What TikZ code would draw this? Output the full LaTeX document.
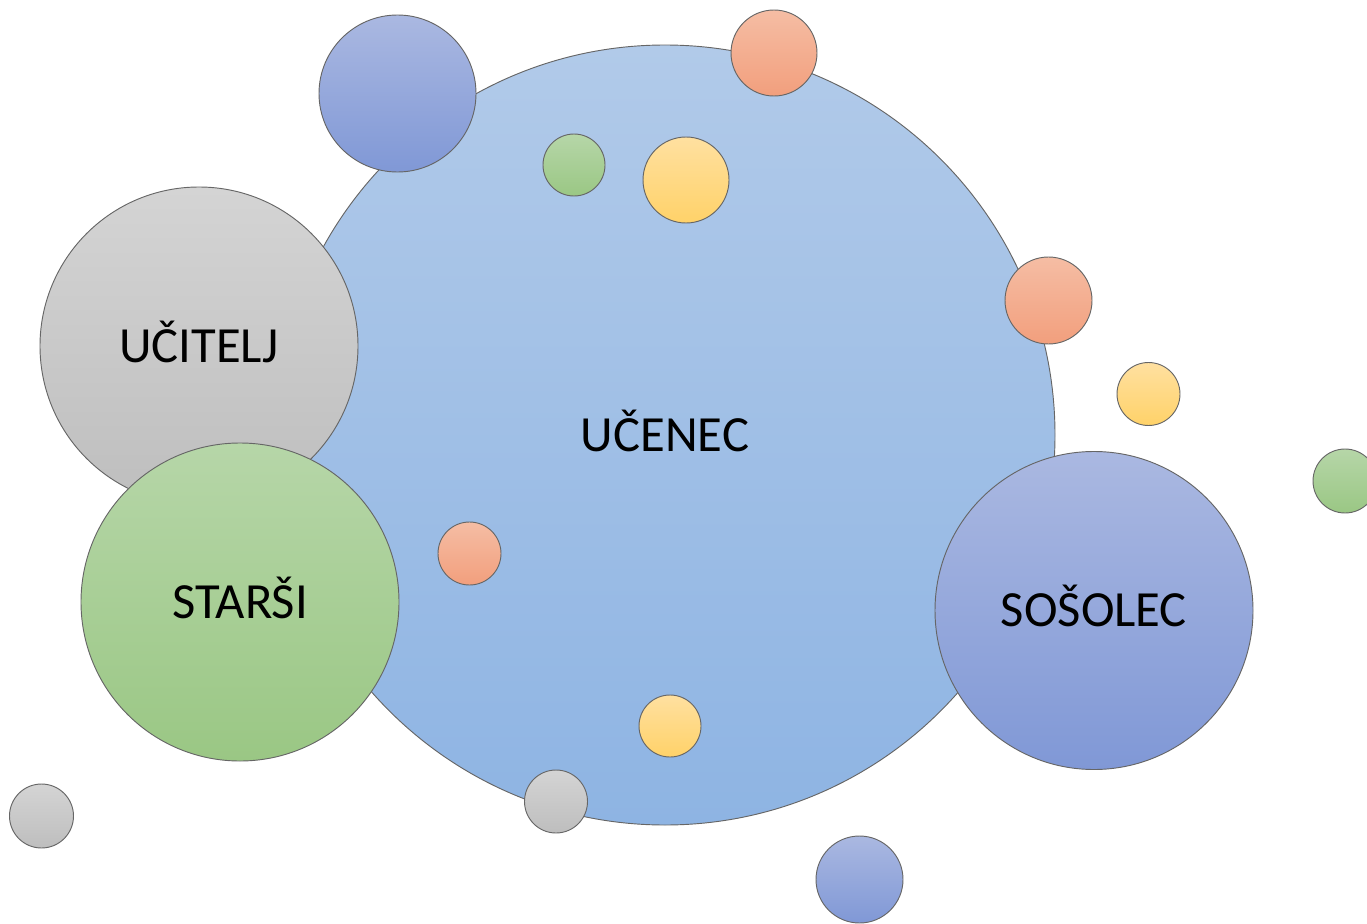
\documentclass[tikz,border=0pt]{standalone}
\usepackage{fontspec}
\setmainfont{Carlito}

\definecolor{skyTop}{HTML}{B1CAE9}
\definecolor{skyBot}{HTML}{8EB4E3}
\definecolor{greyTop}{HTML}{D4D4D4}
\definecolor{greyBot}{HTML}{BEBEBE}
\definecolor{leafTop}{HTML}{B6D6A8}
\definecolor{leafBot}{HTML}{9AC784}
\definecolor{lilacTop}{HTML}{AAB8E1}
\definecolor{lilacBot}{HTML}{8098D6}
\definecolor{peachTop}{HTML}{F5BDA4}
\definecolor{peachBot}{HTML}{F29F7D}
\definecolor{sunTop}{HTML}{FFE0A0}
\definecolor{sunBot}{HTML}{FFD269}

\begin{document}
\begin{tikzpicture}[x=0.75pt, y=-0.75pt,
    bubble/.style={circle, draw=black!60, line width=0.7pt, inner sep=0pt,
      minimum size=1.5pt*#1, font=\fontsize{38}{44}\selectfont,
      text height=24.5pt, text depth=0pt},
    sky/.style={top color=skyTop, bottom color=skyBot},
    grey/.style={top color=greyTop, bottom color=greyBot},
    leaf/.style={top color=leafTop, bottom color=leafBot},
    lilac/.style={top color=lilacTop, bottom color=lilacBot},
    peach/.style={top color=peachTop, bottom color=peachBot},
    sun/.style={top color=sunTop, bottom color=sunBot}]
  \useasboundingbox (0,0) rectangle (1367,924);
  \clip (0,0) rectangle (1367,924);

  % main bubble and the four around it
  \node[bubble=390, sky] (ucenec) at (665,435) {UČENEC};
  \node[bubble=78.5, lilac] (topblue) at (397.5,93.5) {};
  \node[bubble=159, grey] (ucitelj) at (199,346) {UČITELJ};
  \node[bubble=159, leaf] (starsi) at (240,602) {STARŠI};
  \node[bubble=159, lilac] (sosolec) at (1094,610.5) {SOŠOLEC};

  % small bubbles
  \foreach \n/\x/\y/\r/\c in {
      1/774/53/43/peach, 2/574/165/31/leaf, 3/686/180/43/sun,
      4/1048.5/300.5/43.5/peach, 5/1148.5/394/31.5/sun, 6/1345/481/32/leaf,
      7/469.5/553.5/31.5/peach, 8/670/726/31/sun, 9/556/801.5/31.5/grey,
      10/41.5/816/32/grey, 11/859.5/879.5/43.5/lilac} {
    \node[bubble=\r, \c] (dot\n) at (\x,\y) {};
  }
\end{tikzpicture}
\end{document}
